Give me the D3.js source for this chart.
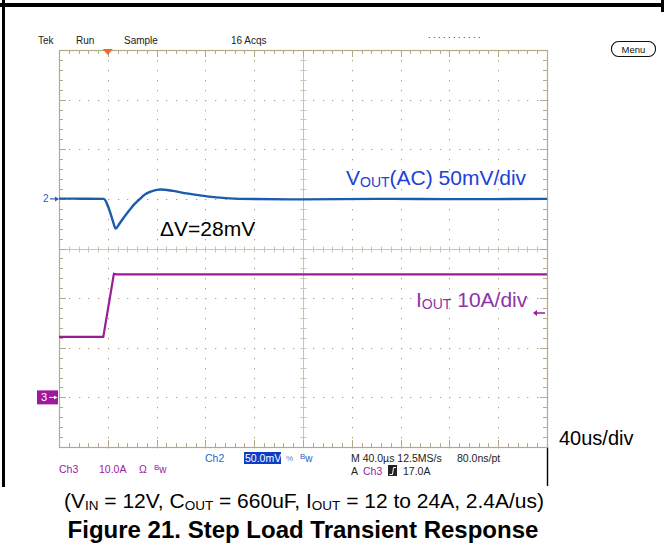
<!DOCTYPE html>
<html><head><meta charset="utf-8">
<script src="https://cdn.jsdelivr.net/npm/d3@7/dist/d3.min.js"></script>
<style>body{margin:0;background:#fff} svg{display:block}</style>
</head><body>
<svg id="c" width="664" height="557"></svg>
<script>
// ---------------- data ----------------
const timeDomainUs = [0, 400];            // 10 div x 40 us/div
const voltDomainMv = [150, -250];         // 8 div x 50 mV/div, ch2 marker at 0
const currDomainA  = [70, -10];           // 8 div x 10 A/div, ch3 marker at 0
const voutTimeUs = [0, 20, 36.9, 39, 41.8, 44.3, 46.5, 49, 53, 58, 62, 66.4, 70, 74.6, 82.8, 93.4, 104.7, 115.6, 129, 148, 200, 260, 330, 400];
const voutMv     = [0.3, 0.2, 0, -4, -13, -23, -30, -26, -19, -11, -5, 0, 4, 7, 9.5, 8, 5.5, 3.5, 1.5, 0, -0.5, 0, -0.3, 0];
const ioutTimeUs = [0, 36.3, 45, 47, 400];
const ioutA      = [12.2, 12.2, 24.9, 24.8, 24.8];
const triggerTimeUs = 40;
const triggerLevelA = 17;
const statusTop = ["Tek", "Run", "Sample", "16 Acqs"];
const captionText = ["(V", "IN", " = 12V, C", "OUT", " = 660uF, I", "OUT", " = 12 to 24A, 2.4A/us)"];
const titleText = "Figure 21. Step Load Transient Response";

// ---------------- layout ----------------
const svg = d3.select("#c");
const X0 = 59, X1 = 547, Y0 = 50, Y1 = 447;
const x = d3.scaleLinear().domain(timeDomainUs).range([X0, X1]);
const yV = d3.scaleLinear().domain(voltDomainMv).range([Y0, Y1]);
const yI = d3.scaleLinear().domain(currDomainA).range([Y0, Y1]);
const divY = d3.scaleLinear().domain([0, 8]).range([Y0, Y1]);
const divX = d3.scaleLinear().domain([0, 10]).range([X0, X1]);

const GRID = "#b3ab88", DOT = "#a39d84", CEN = "#cbc6b0";

// black frame of the scope screenshot
svg.append("rect").attr("x", 0).attr("y", 3).attr("width", 664).attr("height", 4).attr("fill", "#000");
svg.append("rect").attr("x", 2).attr("y", 0).attr("width", 3).attr("height", 487).attr("fill", "#000");
svg.append("rect").attr("x", 661).attr("y", 0).attr("width", 3).attr("height", 12).attr("fill", "#000");
svg.append("line").attr("x1", X1 + 0.5).attr("x2", X1 + 0.5).attr("y1", Y1).attr("y2", 486).attr("stroke", "#000").attr("stroke-width", 1.4);

const g = svg.append("g");
// dotted gridlines
const minorX = d3.range(0, 50.001, 1).map(i => divX(i / 5));
const minorY = d3.range(0, 40.001, 1).map(j => divY(j / 5));
[1,2,3,4,6,7,8,9].forEach(i => {
  const xx = Math.round(divX(i));
  minorY.forEach(yy => g.append("rect").attr("x", xx).attr("y", Math.round(yy)).attr("width", 1).attr("height", 1.3).attr("fill", DOT));
});
[1,2,3,5,6,7].forEach(j => {
  const yy = Math.round(divY(j));
  minorX.forEach(xx => g.append("rect").attr("x", Math.round(xx)).attr("y", yy).attr("width", 1.3).attr("height", 1).attr("fill", DOT));
});
// center crosshair with ticks
const cx = Math.round(divX(5)) + 0.5, cy = Math.round(divY(4)) + 0.5;
g.append("line").attr("x1", cx).attr("x2", cx).attr("y1", Y0).attr("y2", Y1).attr("stroke", CEN);
g.append("line").attr("x1", X0).attr("x2", X1).attr("y1", cy).attr("y2", cy).attr("stroke", CEN);
minorY.forEach(yy => g.append("line").attr("x1", cx - 3).attr("x2", cx + 3).attr("y1", Math.round(yy) + 0.5).attr("y2", Math.round(yy) + 0.5).attr("stroke", CEN));
minorX.forEach(xx => g.append("line").attr("y1", cy - 3).attr("y2", cy + 3).attr("x1", Math.round(xx) + 0.5).attr("x2", Math.round(xx) + 0.5).attr("stroke", CEN));
// border ticks
minorX.forEach((xx, i) => {
  const L = (i % 5 === 0) ? 7 : 4;
  const px = Math.round(xx) + 0.5;
  g.append("line").attr("x1", px).attr("x2", px).attr("y1", Y0).attr("y2", Y0 + L).attr("stroke", GRID);
  g.append("line").attr("x1", px).attr("x2", px).attr("y1", Y1).attr("y2", Y1 - L).attr("stroke", GRID);
});
minorY.forEach((yy, j) => {
  const L = (j % 5 === 0) ? 7 : 4;
  const py = Math.round(yy) + 0.5;
  g.append("line").attr("y1", py).attr("y2", py).attr("x1", X0).attr("x2", X0 + L).attr("stroke", GRID);
  g.append("line").attr("y1", py).attr("y2", py).attr("x1", X1).attr("x2", X1 - L).attr("stroke", GRID);
});
g.append("rect").attr("x", X0 + 0.5).attr("y", Y0 + 0.5).attr("width", X1 - X0).attr("height", Y1 - Y0)
  .attr("fill", "none").attr("stroke", GRID).attr("stroke-width", 1.2);

// traces
const vData = voutTimeUs.map((t, i) => [t, voutMv[i]]);
const iData = ioutTimeUs.map((t, i) => [t, ioutA[i]]);
svg.append("path").datum(vData)
  .attr("d", d3.line().x(d => x(d[0])).y(d => yV(d[1])).curve(d3.curveMonotoneX))
  .attr("fill", "none").attr("stroke", "#1b5cac").attr("stroke-width", 2.4);
svg.append("path").datum(iData)
  .attr("d", d3.line().x(d => x(d[0])).y(d => yI(d[1])))
  .attr("fill", "none").attr("stroke", "#9b1b98").attr("stroke-width", 2.2);

// trigger position marker (top)
const tx = x(triggerTimeUs);
svg.append("path").attr("d", `M${tx - 5},${Y0 - 1}L${tx + 5},${Y0 - 1}L${tx},${Y0 + 5}Z`).attr("fill", "#f26522");
// trigger level marker (right)
const ty = yI(triggerLevelA);
svg.append("line").attr("x1", X1 - 12).attr("x2", X1 - 2).attr("y1", ty).attr("y2", ty).attr("stroke", "#9b1b98").attr("stroke-width", 1.5);
svg.append("path").attr("d", `M${X1 - 14},${ty}L${X1 - 10},${ty - 3}L${X1 - 10},${ty + 3}Z`).attr("fill", "#9b1b98");

// ch2 marker
const m2 = yV(0);
svg.append("text").attr("x", 43).attr("y", m2 + 3.5).attr("font-family", "Liberation Sans, Arial").attr("font-size", 10).attr("fill", "#2a5fc0").text("2");
svg.append("line").attr("x1", 50).attr("x2", 58).attr("y1", m2).attr("y2", m2).attr("stroke", "#2a5fc0").attr("stroke-width", 1.2);
svg.append("path").attr("d", `M59,${m2}L55,${m2 - 2.5}L55,${m2 + 2.5}Z`).attr("fill", "#2a5fc0");
// ch3 marker
const m3 = yI(0);
svg.append("rect").attr("x", 37).attr("y", m3 - 7).attr("width", 21).attr("height", 14).attr("fill", "#a0189c");
svg.append("text").attr("x", 41).attr("y", m3 + 4).attr("font-family", "Liberation Sans, Arial").attr("font-size", 11).attr("fill", "#fff").text("3");
svg.append("line").attr("x1", 49).attr("x2", 56).attr("y1", m3).attr("y2", m3).attr("stroke", "#fff").attr("stroke-width", 1);
svg.append("path").attr("d", `M57.5,${m3}L54,${m3 - 2}L54,${m3 + 2}Z`).attr("fill", "#fff");

// scope status text
const SF = "Liberation Sans, Arial, sans-serif";
const st = (tx_, ty_, s, fill, size) => svg.append("text").attr("x", tx_).attr("y", ty_).attr("font-family", SF)
  .attr("font-size", size || 10).attr("fill", fill || "#222").text(s);
st(38, 44, statusTop[0]); st(76, 44, statusTop[1]); st(124, 44, statusTop[2]); st(231, 44, statusTop[3]);
st(428, 38, ". . .      . .  . .  . .  . .", "#222", 9);
svg.append("rect").attr("x", 611.5).attr("y", 41.5).attr("width", 44).attr("height", 15).attr("rx", 7).attr("fill", "#fff").attr("stroke", "#111").attr("stroke-width", 1.1);
svg.append("text").attr("x", 633.5).attr("y", 52.5).attr("text-anchor", "middle").attr("font-family", SF).attr("font-size", 9.5).attr("fill", "#111").text("Menu");

// bottom status
st(59, 473, "Ch3", "#a0189c", 10.5); st(99, 473, "10.0A", "#a0189c", 10.5); st(139, 473, "Ω", "#a0189c", 10.5);
const bw1 = svg.append("text").attr("x", 154).attr("y", 473).attr("font-family", SF).attr("font-size", 10).attr("fill", "#a0189c");
bw1.append("tspan").attr("font-size", 8).attr("dy", -3).text("B"); bw1.append("tspan").attr("dy", 3).text("w");
st(205, 462, "Ch2", "#2a5fc0", 10.5);
svg.append("rect").attr("x", 244).attr("y", 452).attr("width", 37).attr("height", 12).attr("fill", "#0b3ec4");
st(245, 462, "50.0mV", "#fff", 10.5);
st(286, 461, "%", "#4a7fd0", 8);
const bw2 = svg.append("text").attr("x", 300).attr("y", 462).attr("font-family", SF).attr("font-size", 10).attr("fill", "#2a5fc0");
bw2.append("tspan").attr("font-size", 8).attr("dy", -3).text("B"); bw2.append("tspan").attr("dy", 3).text("w");
st(351, 462, "M 40.0µs 12.5MS/s", "#222", 10.5);
st(457, 462, "80.0ns/pt", "#222", 10.5);
st(351, 475, "A", "#222", 10.5);
st(363, 475, "Ch3", "#a0189c", 10.5);
svg.append("rect").attr("x", 388).attr("y", 465).attr("width", 9).attr("height", 11).attr("fill", "#222");
svg.append("path").attr("d", "M389.5,474.5L392.5,474.5L393.5,467.5L396,467.5").attr("fill", "none").attr("stroke", "#fff").attr("stroke-width", 1);
st(403, 475, "17.0A", "#222", 10.5);

// annotations
const AF = "Liberation Sans, Arial, Helvetica, sans-serif";
const vl = svg.append("text").attr("x", 346).attr("y", 185).attr("font-family", AF).attr("font-size", 21).attr("fill", "#2040d8");
vl.append("tspan").text("V"); vl.append("tspan").attr("font-size", 14).attr("dy", 2).text("OUT"); vl.append("tspan").attr("dy", -2).text("(AC) 50mV/div");
svg.append("text").attr("x", 160).attr("y", 236).attr("font-family", AF).attr("font-size", 21).attr("fill", "#000").text("ΔV=28mV");
const il = svg.append("text").attr("x", 416).attr("y", 307).attr("font-family", AF).attr("font-size", 21).attr("fill", "#8e34a8");
il.append("tspan").text("I"); il.append("tspan").attr("font-size", 14).attr("dy", 2).text("OUT"); il.append("tspan").attr("dy", -2).text(" 10A/div");
svg.append("text").attr("x", 559).attr("y", 445).attr("font-family", AF).attr("font-size", 20).attr("fill", "#000").text("40us/div");

// caption
const cap = svg.append("text").attr("x", 304).attr("y", 508).attr("text-anchor", "middle").attr("font-family", AF).attr("font-size", 21).attr("fill", "#000");
captionText.forEach((s, i) => {
  const sub = i % 2 === 1;
  cap.append("tspan").attr("font-size", sub ? 13.5 : 21).attr("dy", sub ? 2 : (i === 0 ? 0 : -2)).text(s);
});
svg.append("text").attr("x", 303).attr("y", 538).attr("text-anchor", "middle").attr("font-family", AF).attr("font-size", 24)
  .attr("font-weight", "bold").attr("fill", "#000").text(titleText);
</script>
</body></html>
